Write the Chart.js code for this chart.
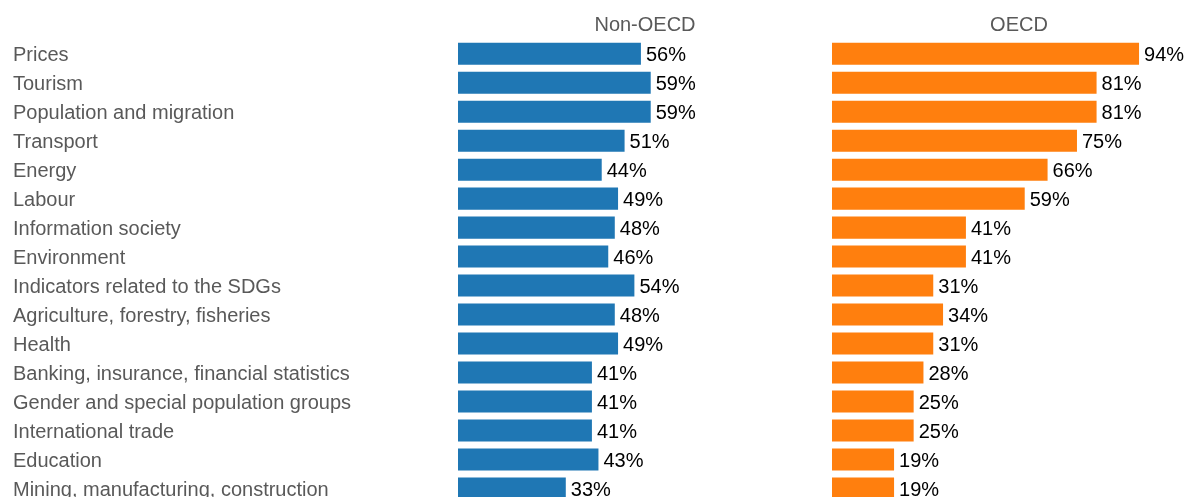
<!DOCTYPE html>
<html><head><meta charset="utf-8">
<script src="https://cdn.jsdelivr.net/npm/chart.js@4.4.1/dist/chart.umd.min.js"></script>
<style>
html,body{margin:0;padding:0;overflow:hidden;width:1188px;height:497px;background:#fff}
#w1{position:absolute;left:0;top:0;width:832px;height:503px}
#w2{position:absolute;left:832px;top:0;width:374px;height:503px}
</style></head><body>
<div id="w1"><canvas id="c1"></canvas></div>
<div id="w2"><canvas id="c2"></canvas></div>
<script>
const categories = [
  'Prices','Tourism','Population and migration','Transport','Energy','Labour',
  'Information society','Environment','Indicators related to the SDGs',
  'Agriculture, forestry, fisheries','Health','Banking, insurance, financial statistics',
  'Gender and special population groups','International trade','Education',
  'Mining, manufacturing, construction'
];
const nonOecdValues = [56,59,59,51,44,49,48,46,54,48,49,41,41,41,43,33];
const oecdValues = [94,81,81,75,66,59,41,41,31,34,31,28,25,25,19,19];
const panelTitles = ['Non-OECD','OECD'];
const valueMax = 114.5;

const FONT = '"Liberation Sans", Arial, sans-serif';

const panelTitlePlugin = {
  id: 'panelTitle',
  afterDraw(chart, args, opts) {
    const ctx = chart.ctx, a = chart.chartArea;
    ctx.save();
    ctx.font = '20px ' + FONT;
    ctx.fillStyle = '#595959';
    ctx.textAlign = 'center';
    ctx.textBaseline = 'middle';
    ctx.fillText(opts.text, (a.left + a.right) / 2, 25);
    ctx.restore();
  }
};
const valueLabelPlugin = {
  id: 'valueLabels',
  afterDatasetsDraw(chart) {
    const ctx = chart.ctx;
    ctx.save();
    ctx.font = '20px ' + FONT;
    ctx.fillStyle = '#000';
    ctx.textAlign = 'left';
    ctx.textBaseline = 'middle';
    chart.data.datasets.forEach((ds, di) => {
      chart.getDatasetMeta(di).data.forEach((bar, i) => {
        ctx.fillText(ds.data[i] + '%', bar.x + 5, bar.y + 2);
      });
    });
    ctx.restore();
  }
};

function makeChart(id, values, color, title, showLabels) {
  return new Chart(document.getElementById(id), {
    type: 'bar',
    data: {
      labels: categories,
      datasets: [{
        data: values,
        backgroundColor: color,
        borderWidth: 0,
        barPercentage: 0.76,
        categoryPercentage: 1.0
      }]
    },
    options: {
      indexAxis: 'y',
      responsive: true,
      maintainAspectRatio: false,
      animation: false,
      events: [],
      layout: { padding: { left: showLabels ? 13 : 0, right: 0, top: 39.2, bottom: 0 } },
      plugins: {
        legend: { display: false },
        tooltip: { enabled: false },
        title: { display: false },
        panelTitle: { text: title }
      },
      scales: {
        x: { display: false, min: 0, max: valueMax },
        y: {
          display: showLabels,
          grid: { display: false },
          border: { display: false },
          afterFit: s => {
            if (showLabels) s.width = 458 - 13;
            s.paddingTop = 0; s.paddingBottom = 0;
          },
          ticks: {
            crossAlign: 'far',
            color: '#595959',
            padding: 0,
            labelOffset: 2,
            font: { family: FONT, size: 20 },
            autoSkip: false
          }
        }
      }
    },
    plugins: [panelTitlePlugin, valueLabelPlugin]
  });
}
makeChart('c1', nonOecdValues, '#1f77b4', panelTitles[0], true);
makeChart('c2', oecdValues, '#ff7f0e', panelTitles[1], false);
</script>
</body></html>
